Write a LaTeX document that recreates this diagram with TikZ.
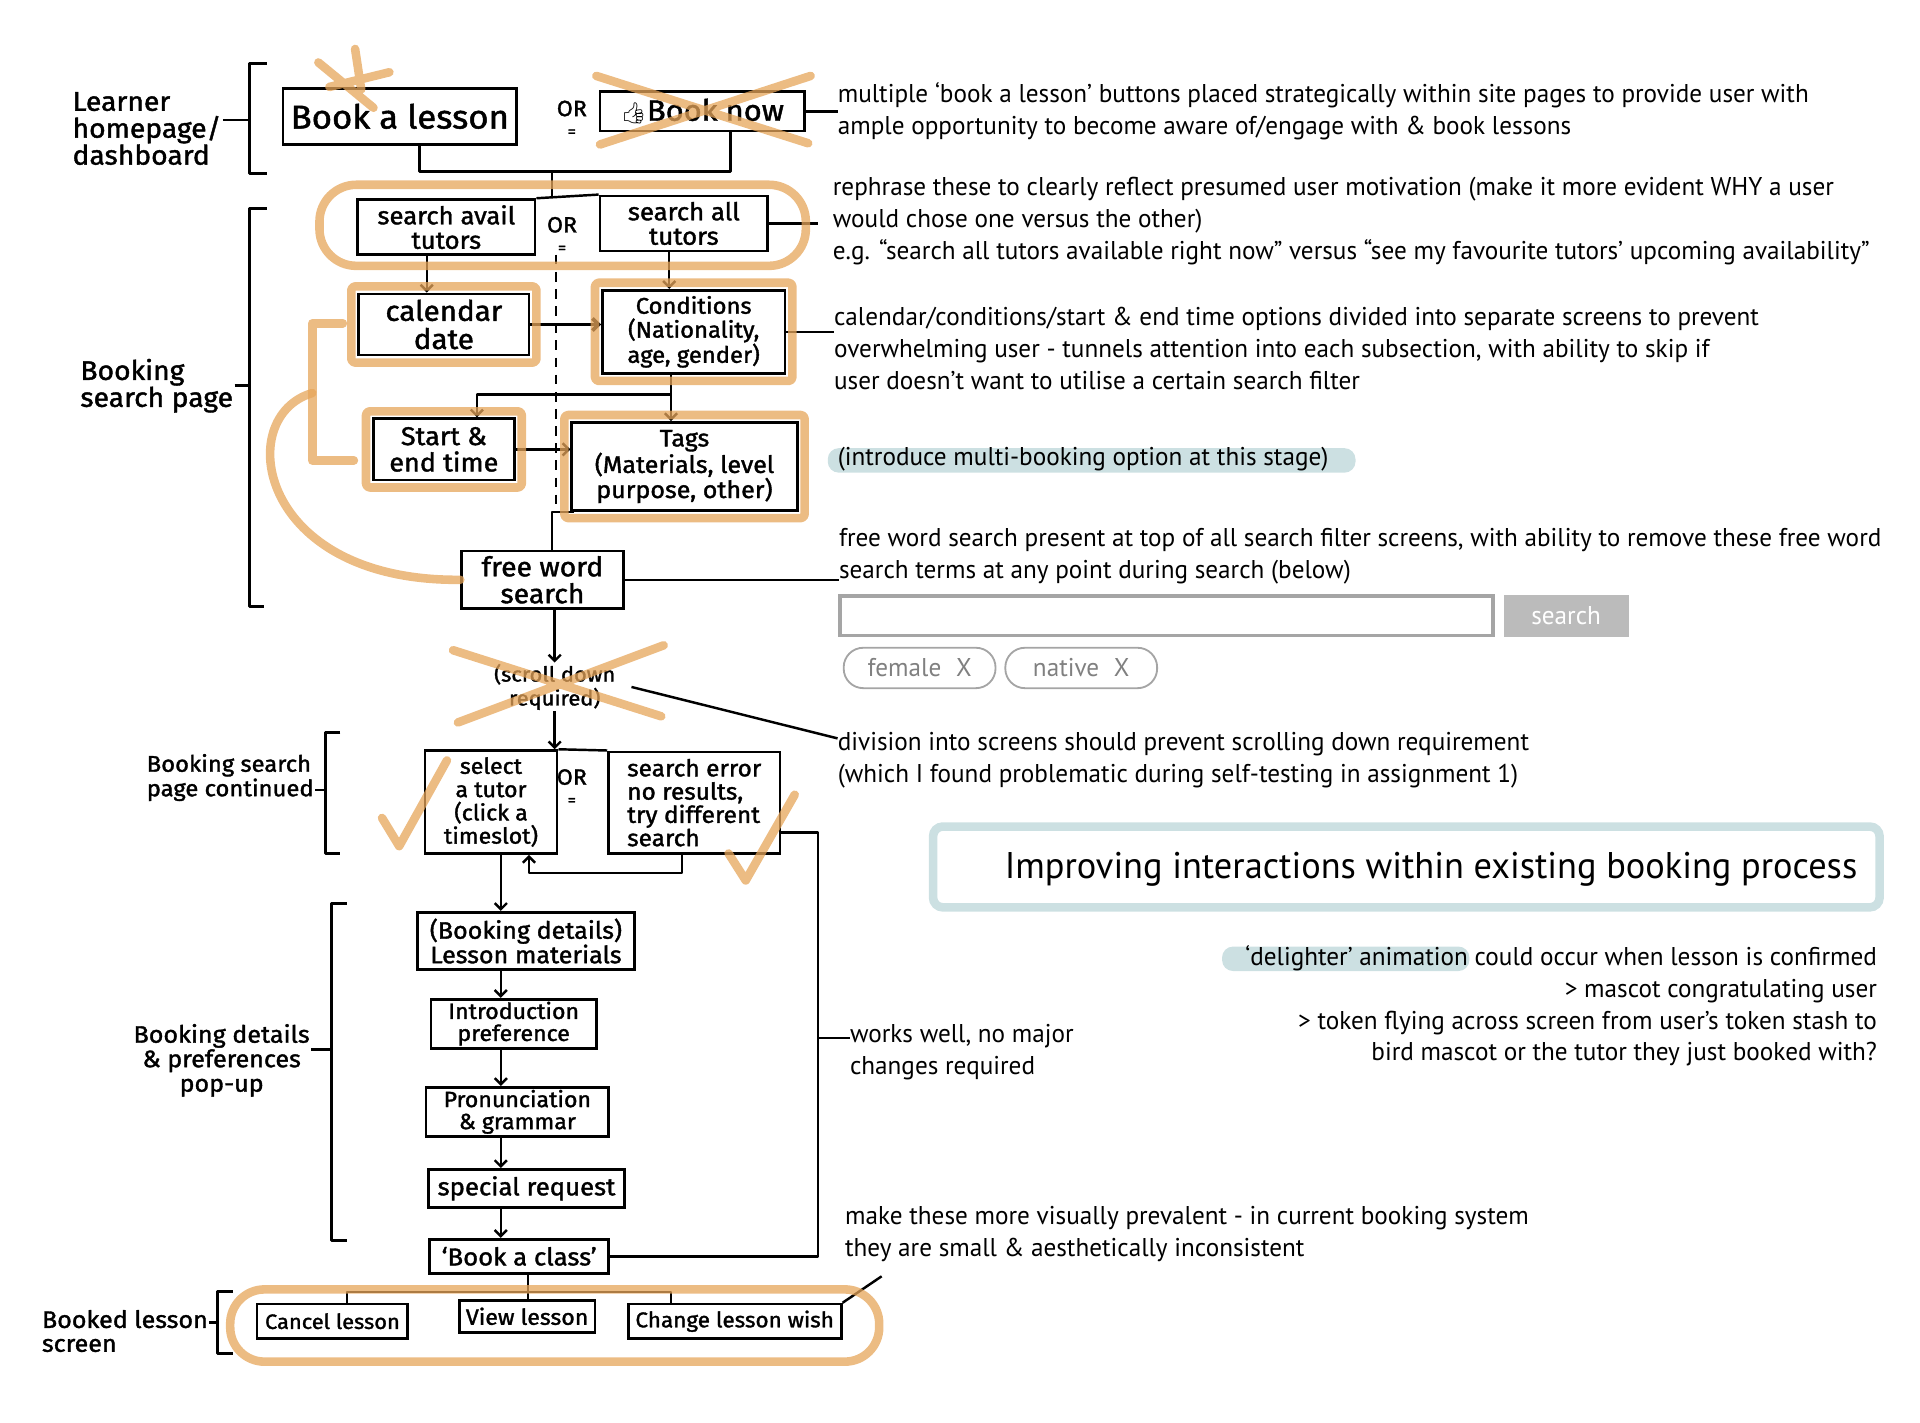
\documentclass[tikz,border=0pt]{standalone}
\usepackage{fontspec}
\usepackage{tikz}
\usetikzlibrary{arrows.meta,fit}
\setmainfont{PT Sans}[FakeStretch=0.98]
\newfontfamily\hand{Fira Sans}[FakeStretch=1.05,FakeBold=1.5]
\newfontfamily\emoji{Noto Emoji}
\definecolor{peach}{RGB}{230,165,90}
\definecolor{seafoam}{RGB}{204,224,226}
\definecolor{widget}{RGB}{165,165,165}
\newcommand{\hs}[2]{\hand\fontsize{#1}{#2}\selectfont}
\newcommand{\notefont}{\fontsize{21}{26}\selectfont}
\tikzset{
  screen/.style={draw, line width=2.2pt, inner sep=1pt, align=center},
  ink/.style={line width=2pt, line join=round},
  flow/.style={ink, -{Straight Barb[length=5pt,width=10pt]}},
  marker/.style={draw=peach, line width=7pt, opacity=.75, line cap=round, line join=round},
  note/.style={inner sep=0pt, align=left, font=\notefont},
  orsign/.style={font=\hs{18}{17}, align=center, inner sep=0pt},
  side/.style={font=\hs{18}{19}, align=left, inner sep=1pt},
  pill/.style={draw=widget, line width=1.5pt, rounded corners=16pt, minimum width=124, minimum height=33, text=gray, font=\notefont},
}
\newcommand{\orsym}{OR\\{\fontsize{13}{13}\selectfont =}}
\begin{document}
\begin{tikzpicture}[x=1pt,y=-1pt]
\useasboundingbox (0,0) rectangle (1568,1162);

% teal highlights under the notes
\fill[seafoam, rounded corners=9pt] (676,366) rectangle (1107,386);
\fill[seafoam, rounded corners=9pt] (998,773) rectangle (1200,793);

% learner homepage
\node[screen, minimum width=191, minimum height=46, font=\hs{27}{28}] (book) at (326.5,95) {Book a lesson};
\node[orsign] (or1) at (467,97) {\orsym};
\node[screen, minimum width=167, minimum height=32, font=\hs{24}{24}] (booknow) at (573.5,91) {{\emoji\fontsize{17}{17}\selectfont 👍}Book now};

% booking search page
\node[screen, minimum width=145, minimum height=45, font=\hs{20}{20}] (avail) at (364.5,185.5) {search avail\\tutors};
\node[orsign] (or2) at (459,192) {\orsym};
\node[screen, minimum width=137, minimum height=45, font=\hs{20}{20}] (all) at (558.5,182.5) {search all\\tutors};
\node[screen, minimum width=139, minimum height=50, font=\hs{23}{23}] (cal) at (362.5,265) {calendar\\date};
\node[screen, minimum width=149, minimum height=68, font=\hs{18.5}{19.5}] (cond) at (566.5,271) {Conditions\\(Nationality,\\age, gender)};
\node[screen, minimum width=115, minimum height=50, font=\hs{21}{21.5}] (start) at (362.5,367) {Start \&\\end time};
\node[screen, minimum width=184, minimum height=72, font=\hs{19.5}{20.5}] (tags) at (559,381) {Tags\\(Materials, level\\purpose, other)};
\node[screen, minimum width=132, minimum height=47, font=\hs{22}{22}] (free) at (443,473.5) {free word\\search};
\node[font=\hs{17}{19.5}, align=center, inner sep=1pt] (scroll) at (453,561) {(scroll down\\required)};

% booking search page continued
\node[screen, minimum width=108, minimum height=84, font=\hs{18}{19}] (select) at (401,655) {select\\a tutor\\(click a\\timeslot)};
\node[orsign] (or3) at (467,643) {\orsym};
\node[screen, minimum width=140, minimum height=83, font=\hs{19}{19}, align=left] (error) at (567,655.5) {search error\\no results,\\try different\\search};

% booking details pop-up
\node[screen, minimum width=177, minimum height=47, font=\hs{19.5}{20}] (details) at (429.5,768.5) {(Booking details)\\Lesson materials};
\node[screen, minimum width=135, minimum height=40, font=\hs{18}{18}] (intro) at (419.5,836) {Introduction\\preference};
\node[screen, minimum width=149, minimum height=40, font=\hs{18}{18}] (pron) at (422.5,908) {Pronunciation\\\& grammar};
\node[screen, minimum width=160, minimum height=31, font=\hs{20}{20}] (special) at (430,970.5) {special request};
\node[screen, minimum width=146, minimum height=28, font=\hs{20}{20}] (bookclass) at (424,1026) {‘Book a class’};

% booked lesson screen
\node[screen, minimum width=123, minimum height=28, font=\hs{17}{17}] (cancel) at (271.5,1079) {Cancel lesson};
\node[screen, minimum width=111, minimum height=26, font=\hs{18}{18}] (view) at (430.5,1075) {View lesson};
\node[screen, minimum width=174, minimum height=28, font=\hs{17.5}{17.5}] (change) at (600,1079) {Change lesson wish};

% section labels and brackets
\node[side, font=\hs{22}{22}] (learner) at (120,105) {Learner\\homepage/\\dashboard};
\node[side, font=\hs{22}{22}] (lsearch) at (128,315) {Booking\\search page};
\node[side, font=\hs{18.5}{20}] (lcont) at (188,635) {Booking search\\page continued};
\node[side, font=\hs{19.5}{20}, align=center] (ldetails) at (181,866) {Booking details\\\& preferences\\pop-up};
\node[side, font=\hs{19.5}{19.5}] (lbooked) at (102,1087) {Booked lesson\\screen};
\coordinate (br1) at (204,98);
\coordinate (br2) at (204,315);
\coordinate (br3) at (266,645);
\coordinate (br4) at (271,857);
\coordinate (br5) at (178,1080);
\draw[ink, line width=2.5pt] (218,52) -| (204,142) -- (218,142);
\draw[ink, line width=2.5pt] (218,170) -| (204,495) -- (216,495);
\draw[ink, line width=2.5pt] (278,598) -| (266,697) -- (278,697);
\draw[ink, line width=2.5pt] (283,738) -| (271,1013) -- (283,1013);
\draw[ink, line width=2.5pt] (190,1055) -| (178,1105) -- (190,1105);
\draw[ink] (learner.east |- br1) -- (br1);
\draw[ink] (lsearch.east |- br2) -- (br2);
\draw[ink] (lcont.east |- br3) -- (br3);
\draw[ink] (ldetails.east |- br4) -- (br4);
\draw[ink] (lbooked.east |- br5) -- (br5);

% notes
\node[note, anchor=west] (n1) at (684,91) {multiple ‘book a lesson’ buttons placed strategically within site pages to provide user with\\ample opportunity to become aware of/engage with \& book lessons};
\node[note, anchor=west] (n2) at (680,180.5) {rephrase these to clearly reflect presumed user motivation (make it more evident WHY a user\\would chose one versus the other)\\e.g. “search all tutors available right now” versus “see my favourite tutors’ upcoming availability”};
\node[note, anchor=west] (n3) at (681,284.5) {calendar/conditions/start \& end time options divided into separate screens to prevent\\overwhelming user - tunnels attention into each subsection, with ability to skip if\\user doesn’t want to utilise a certain search filter};
\node[note, anchor=west] (n4) at (684,375) {(introduce multi-booking option at this stage)};
\node[note, anchor=west] (n5) at (685,454) {free word search present at top of all search filter screens, with ability to remove these free word\\search terms at any point during search (below)};
\node[draw=widget, line width=3pt, minimum width=533, minimum height=32, inner sep=0pt] (field) at (952.5,503) {};
\node[fill=widget!75, minimum width=102, minimum height=34, inner sep=0pt, text=white, font=\notefont] (go) at (1279,503) {search};
\node[pill] (female) at (751,545.5) {female\hspace{12pt}X};
\node[pill] (native) at (883,545.5) {native\hspace{12pt}X};
\node[note, anchor=west] (n8) at (684,621) {division into screens should prevent scrolling down requirement\\(which I found problematic during self-testing in assignment 1)};
\node[draw=seafoam, line width=7pt, rounded corners=8pt, minimum width=773, minimum height=66] (titlebox) at (1148.5,708) {};
\node[inner sep=0pt, anchor=east, font=\fontsize{30.3}{36}\selectfont] (title) at (1517,710) {Improving interactions within existing booking process};
\node[note, anchor=east, align=right] (delight) at (1533,821.5) {‘delighter’ animation could occur when lesson is confirmed\\> mascot congratulating user\\> token flying across screen from user’s token stash to\\bird mascot or the tutor they just booked with?};
\node[note, anchor=west] (works) at (694,859.5) {works well, no major\\changes required};
\node[note, anchor=west] (make) at (690,1007.5) {make these more visually prevalent - in current booking system\\they are small \& aesthetically inconsistent};

% top links
\coordinate (j1) at (451,140);
\coordinate (bookout) at ([xshift=16pt]book.south);
\coordinate (booknowout) at ([xshift=23pt]booknow.south);
\draw[ink] (bookout) |- (j1) -| (booknowout);
\draw[ink] (j1) -- (j1 |- avail.north);
\draw[ink] (avail.north east) -- (all.north west);
\draw[ink] (booknow.east) -- (booknow.east -| n1.west);
\coordinate (n2tip) at ([xshift=-12pt]n2.west);
\draw[ink] (all.east) -- (all.east -| n2tip);

% filter screens
\coordinate (calin) at ([xshift=-14pt]cal.north);
\coordinate (condin) at ([xshift=-20pt]cond.north);
\draw[flow] (calin |- avail.south) -- (calin);
\draw[flow] (condin |- all.south) -- (condin);
\draw[flow, line width=3pt] (cal.east) -- (cal.east -| cond.west);
\draw[ink] (cond.east) -- (cond.east -| n3.west);
\draw[ink, dash pattern=on 8pt off 6pt] (454,208) -- (454,412);
\coordinate (j2) at (548,322);
\coordinate (startin) at ([xshift=27pt]start.north);
\draw[ink] (j2 |- cond.south) -- (j2);
\draw[flow] (j2) -- (j2 |- tags.north);
\draw[flow] (j2) -| (startin);
\draw[flow] (start.east) -- (start.east -| tags.west);
\coordinate (tagsout) at ([xshift=3pt]tags.south west);
\coordinate (freein) at ([xshift=8pt]free.north);
\draw[ink] (tagsout) -| (freein);
\draw[ink] (free.east) -- (free.east -| n5.west);
\draw[flow] (free.south -| scroll) -- (scroll.north);
\draw[flow] (scroll.south) -- (scroll.south |- select.north);
\coordinate (scrollout) at ([xshift=12pt]scroll.east);
\coordinate (n8tip) at ([yshift=18pt]n8.west);
\draw[ink] (scrollout) -- (n8tip);

% results
\draw[ink] (select.north east) -- (error.north west);
\coordinate (errout) at ([xshift=-10pt]error.south);
\coordinate (selectin) at ([xshift=31pt]select.south);
\draw[flow] (errout) -- ++(0,15) -| (selectin);
\coordinate (rail) at (668,680);
\draw[ink] (error.east |- rail) -- (rail) |- (bookclass.east);
\coordinate (workstick) at ([yshift=12pt]works.west);
\draw[ink] (workstick -| rail) -- (workstick);

% details chain
\coordinate (spine) at (409,0);
\draw[flow] (select.south -| spine) -- (details.north -| spine);
\draw[flow] (details.south -| spine) -- (intro.north -| spine);
\draw[flow] (intro.south -| spine) -- (pron.north -| spine);
\draw[flow] (pron.south -| spine) -- (special.north -| spine);
\draw[flow] (special.south -| spine) -- (bookclass.north -| spine);

% booked lesson
\coordinate (j3) at (431,1055);
\coordinate (cancelin) at ([xshift=12pt]cancel.north);
\coordinate (changein) at ([xshift=-52pt]change.north);
\draw[ink] (bookclass.south -| j3) -- (j3);
\draw[ink] (cancelin) |- (j3) -| (changein);
\draw[ink] (j3) -- (j3 |- view.north);
\coordinate (maketip) at ([shift={(30,12)}]make.south west);
\draw[ink] (change.north east) -- (maketip);

% orange marker
\draw[marker] (290,40) -- (295,73) (260,51) -- (305,88) (269,71) -- (318,59);
\draw[marker] (487,62) -- (660,117) (490,118) -- (662,62);
\node[marker, rounded corners=30pt, fit=(avail)(all), inner xsep=30pt, inner ysep=8pt] (searchring) {};
\node[marker, rounded corners=3pt, fit=(cal), inner sep=5pt] (calring) {};
\node[marker, rounded corners=3pt, fit=(cond), inner sep=5pt] (condring) {};
\node[marker, rounded corners=3pt, fit=(start), inner sep=5pt] (startring) {};
\node[marker, rounded corners=3pt, fit=(tags), inner sep=5pt] (tagsring) {};
\draw[marker] (280,264) -- (255,264) -- (255,376) -- (289,376);
\draw[marker] (255,321) .. controls (190,340) and (210,475) .. (free.west);
\draw[marker] (370,531) -- (540,585) (542,527) -- (374,590);
\draw[marker] (312,668) -- (326,691) -- (365,621);
\draw[marker] (595,697) -- (609,719) -- (649,649);
\draw[marker, rounded corners=28pt] (188,1053) rectangle (718,1112);
\end{tikzpicture}
\end{document}
